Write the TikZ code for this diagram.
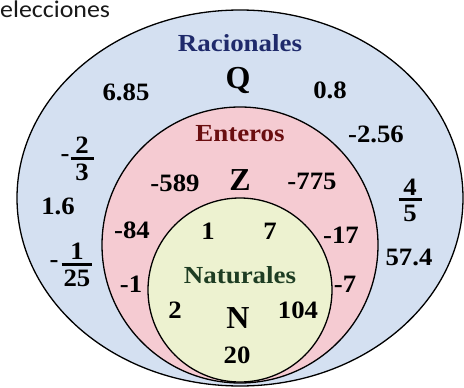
\documentclass[tikz,border=0pt]{standalone}
\usepackage{fontspec}
\setmainfont{Liberation Serif}
\newfontfamily\numf{Liberation Serif}[FakeStretch=1.07]
\newfontfamily\labf{Liberation Serif}[FakeStretch=1.1]
\newfontfamily\bigf{Liberation Serif}[FakeStretch=1.0]
\newfontfamily\calib{Carlito}[FakeStretch=1.08]
\definecolor{qblue}{HTML}{D4E0F1}
\definecolor{zpink}{HTML}{F5CBD2}
\definecolor{ngreen}{HTML}{EDF2D0}
\definecolor{qtext}{HTML}{1F2A6B}
\definecolor{ztext}{HTML}{6A0E10}
\definecolor{ntext}{HTML}{1E3D23}
\newcommand\myfr[3]{\shortstack{#1\\[0pt]\rule{#3}{2.8pt}\\[1pt]#2}}
\begin{document}
\begin{tikzpicture}[x=1pt,y=-1pt,
  setline/.style={draw=black, line width=1.3pt},
  num/.style={font=\numf\bfseries\fontsize{25}{25}\selectfont, anchor=base, inner sep=0pt},
  setlabel/.style={font=\labf\bfseries\fontsize{24.5}{25}\selectfont, anchor=base, inner sep=0pt},
  setletter/.style={font=\bigf\bfseries\fontsize{32}{32}\selectfont, anchor=base, inner sep=0pt},
  frac/.style={font=\numf\bfseries\fontsize{25}{25}\selectfont, anchor=center, inner sep=0pt},
  hyph/.style={font=\numf\bfseries\fontsize{25}{25}\selectfont, anchor=center, inner sep=0pt}]
\useasboundingbox (0,0) rectangle (464,388);
\fill[white] (0,0) rectangle (464,388);
% sets
\path[setline, fill=qblue] (240,198) ellipse [x radius=223, y radius=188];
\path[setline, fill=zpink] (240,245) circle [radius=138];
\path[setline, fill=ngreen] (240,290) circle [radius=92];
% heading fragment
\node[font=\calib\fontsize{24}{24}\selectfont, text=black!90, anchor=base west, inner sep=0pt] (title) at (0,17) {elecciones};
% rationals
\node[setlabel, text=qtext] (qlab) at (240,51) {Racionales};
\node[setletter] (qsym) at (238,88) {Q};
\node[num] (q1) at (126,100) {6.85};
\node[num] (q2) at (330,98) {0.8};
\node[num] (q3) at (376,142) {-2.56};
\node[num] (q4) at (58,214) {1.6};
\node[num] (q5) at (409,265) {57.4};
\node[hyph] (q6m) at (65,158) {-};
\node[frac] (q6) at (82,159) {\myfr{2}{3}{23pt}};
\node[hyph] (q7m) at (54,264) {-};
\node[frac] (q7) at (77,265) {\myfr{1}{25}{31pt}};
\node[frac] (q8) at (410,200) {\myfr{4}{5}{23pt}};
% integers
\node[setlabel, text=ztext] (zlab) at (240,141) {Enteros};
\node[setletter] (zsym) at (240,190) {Z};
\node[num] (z1) at (175,191) {-589};
\node[num] (z2) at (312,189) {-775};
\node[num] (z3) at (132,238) {-84};
\node[num] (z4) at (131,292) {-1};
\node[num] (z5) at (341,243) {-17};
\node[num] (z6) at (345,292) {-7};
% naturals
\node[setlabel, text=ntext] (nlab) at (240,283) {Naturales};
\node[setletter] (nsym) at (238,328) {N};
\node[num] (n1) at (208,239) {1};
\node[num] (n2) at (270,239) {7};
\node[num] (n3) at (175,318) {2};
\node[num] (n4) at (298,318) {104};
\node[num] (n5) at (237,363) {20};
\end{tikzpicture}
\end{document}
